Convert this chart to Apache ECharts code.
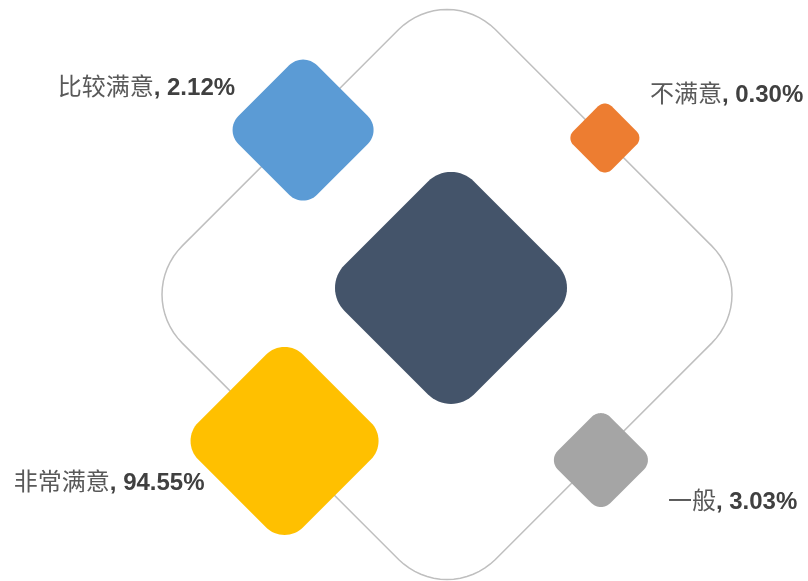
<!DOCTYPE html>
<html>
<head>
<meta charset="utf-8">
<style>
  html, body { margin: 0; padding: 0; background: #ffffff; }
  #chart { width: 808px; height: 581px; }
</style>
<script src="https://cdn.jsdelivr.net/npm/echarts@6/dist/echarts.min.js"></script>
</head>
<body>
<div id="chart"></div>
<script>
// Satisfaction survey results
const categories = ['比较满意', '不满意', '非常满意', '一般'];
const shares = [2.12, 0.30, 94.55, 3.03];
const colors = ['#5B9BD5', '#ED7D31', '#FFC000', '#A5A5A5'];

// Layout of the diamond slots (frame units, frame centre = 0, frame tip = 1)
const slots = [
  { x: -0.505, y: 0.577, size: 141, dx: -68, dy: -42, align: 'right' },
  { x: 0.554, y: 0.549, size: 69, dx: 45, dy: -43, align: 'left' },
  { x: -0.570, y: -0.514, size: 188, dx: -80, dy: 42, align: 'right' },
  { x: 0.540, y: -0.581, size: 94, dx: 67, dy: 42, align: 'left' }
];
const centre = { x: 0.014, y: 0.023, size: 232, color: '#44546A' };
const frame = { size: 570, color: '#BFBFBF' };

// Rounded diamond outline as an SVG path in a 100x100 box
function roundedDiamond(ratio) {
  const E = 50, r = ratio * E, steps = 16;
  const corners = [
    { cx: 0, cy: -E + r, a0: -135 },
    { cx: E - r, cy: 0, a0: -45 },
    { cx: 0, cy: E - r, a0: 45 },
    { cx: -E + r, cy: 0, a0: 135 }
  ];
  const pts = [];
  corners.forEach(c => {
    for (let i = 0; i <= steps; i++) {
      const a = (c.a0 + 90 * i / steps) * Math.PI / 180;
      pts.push([(c.cx + r * Math.cos(a) + E).toFixed(3), (c.cy + r * Math.sin(a) + E).toFixed(3)]);
    }
  });
  return 'path://M' + pts.map(p => p[0] + ' ' + p[1]).join(' L') + ' Z';
}

const tileShape = roundedDiamond(0.28);
const frameShape = roundedDiamond(0.24);

const font = '"Liberation Sans", Arial, "Noto Sans CJK SC", sans-serif';

const tiles = categories.map((name, i) => {
  const s = slots[i];
  return {
    name: name,
    value: [s.x, s.y, shares[i]],
    symbolSize: s.size,
    itemStyle: { color: colors[i] },
    label: {
      show: true,
      position: 'inside',
      offset: [s.dx, s.dy],
      align: s.align,
      verticalAlign: 'middle',
      formatter: p => '{n|' + p.name + '}{v|, ' + p.value[2].toFixed(2) + '%}',
      rich: {
        n: { fontFamily: font, fontSize: 24, color: '#595959', fontWeight: 'normal' },
        v: { fontFamily: font, fontSize: 24, color: '#404040', fontWeight: 'bold' }
      }
    }
  };
});

const chart = echarts.init(document.getElementById('chart'), null, { renderer: 'canvas' });
chart.setOption({
  animation: false,
  backgroundColor: '#ffffff',
  grid: { left: 162, top: 9.5, width: 570, height: 570 },
  xAxis: { type: 'value', min: -1, max: 1, show: false },
  yAxis: { type: 'value', min: -1, max: 1, show: false },
  series: [
    {
      type: 'scatter',
      silent: true,
      symbol: frameShape,
      symbolSize: frame.size,
      itemStyle: { color: 'none', borderColor: frame.color, borderWidth: 1.5, opacity: 1 },
      data: [[0, 0]],
      z: 1
    },
    {
      type: 'scatter',
      silent: true,
      symbol: tileShape,
      symbolSize: centre.size,
      itemStyle: { color: centre.color, opacity: 1 },
      data: [[centre.x, centre.y]],
      z: 2
    },
    {
      type: 'scatter',
      silent: true,
      symbol: tileShape,
      itemStyle: { opacity: 1 },
      data: tiles,
      z: 3
    }
  ]
});
</script>
</body>
</html>
